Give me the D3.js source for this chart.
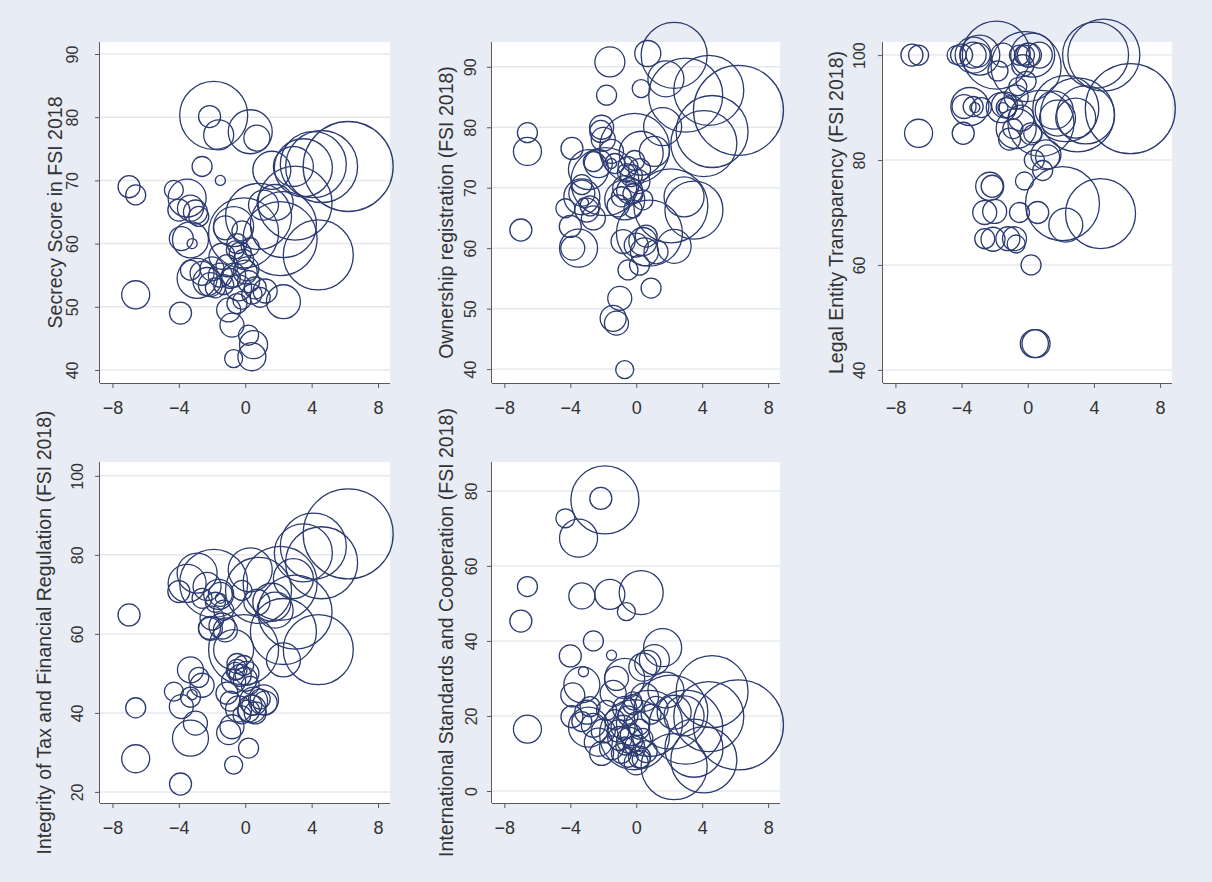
<!DOCTYPE html>
<html><head><meta charset="utf-8">
<script src="https://cdn.jsdelivr.net/npm/d3@7"></script>
<style>
html,body{margin:0;padding:0;background:#e8ecf4;}
svg{display:block;}
</style></head><body>
<svg id="chart" width="1212" height="882"></svg>
<script>
// One entry per jurisdiction, same order in every array.
const xIndex = [6.2,4.6,4.4,4.1,3.5,3.0,2.3,2.1,0.8,-0.1,-1.9,0.3,1.6,2.9,1.8,2.3,-0.7,1.1,0.7,-1.6,-2.15,-2.6,-1.5,-7.0,-6.6,-6.6,
  -4.3,-3.5,-3.3,-3.9,-3.85,-3.3,-3.2,-4.0,-3.0,-3.3,-2.6,-2.8,-2.9,-2.3,-2.0,-2.1,
  -0.5,-0.3,-0.1,0.1,-0.7,-0.9,-1.1,-0.4,0.2,0.4,-1.3,-0.2,0.6,-0.6,0.0,-1.5,-1.8,-0.8,0.5,0.4,-0.7,0.2,-0.5,0.9,-1.0,-1.4,-1.2,1.2,0.3,-0.2];
const scaleWeight = [20.0,12.8,12.1,10.76,8.31,13.52,10.76,13.52,10.76,12.1,11.42,4.78,3.57,3.95,3.2,2.85,3.95,2.22,1.67,2.22,1.2,0.99,0.25,1.2,0.99,1.94,
  0.89,3.57,3.2,1.2,1.42,1.67,0.25,1.2,1.42,0.99,1.42,0.99,3.95,1.94,1.42,1.42,
  0.99,1.2,0.99,1.42,1.42,0.99,1.2,1.67,1.2,0.99,0.99,0.8,1.2,0.8,1.42,1.42,0.99,1.42,1.94,1.94,0.8,0.99,0.99,0.99,1.42,1.67,1.42,1.42,0.8,0.99];
const secrecyScore = [72.2,72.2,58.2,72.5,72.0,66.4,63.0,60.8,64.3,61.7,80.3,77.7,71.6,72.2,66.5,50.8,62.7,66.1,76.7,77.2,80.1,72.2,70.0,69.0,67.7,51.9,
  68.5,67.2,60.6,49.0,60.8,65.6,60.0,65.3,65.0,55.8,55.3,64.3,54.5,54.0,56.0,53.5,
  60.0,58.5,57.5,56.0,55.0,54.5,56.5,53.0,54.0,52.0,53.5,51.0,53.0,59.0,55.5,55.0,53.0,47.1,44.0,42.1,41.8,45.5,50.5,51.5,49.5,58.0,62.5,52.5,59.5,62.0];
const ownershipReg = [82.8,79.3,86.1,77.3,66.3,85.3,91.9,67.0,62.5,76.5,71.0,75.7,80.1,68.5,88.0,60.3,68.0,76.0,92.2,90.8,79.3,74.3,74.0,63.0,79.1,76.0,
  66.6,60.0,68.5,76.5,60.0,69.1,67.5,63.6,66.3,70.5,65.0,67.0,73.0,74.0,78.0,80.0,
  73.5,72.0,74.5,71.0,70.0,68.5,67.0,69.5,73.0,68.0,74.0,66.5,62.0,72.5,60.5,76.0,85.3,61.1,59.4,61.1,39.9,57.2,56.4,53.4,51.7,48.4,47.6,59.4,86.4,69.0];
const legalEntity = [89.8,100,69.8,100,88.6,88.6,89.8,71.7,87.0,97.8,100,100,89.5,88.0,88.0,67.6,86.0,81.0,100,90.0,75.0,65.0,90.0,100,100,85.1,
  100,90.2,100,85.1,90.2,100,90.0,100,100,90.2,70.0,90.0,100,75.0,70.2,64.9,
  100,98.0,95.0,100,92.0,86.0,84.0,88.0,85.0,80.0,90.0,76.0,70.0,94.0,100,100,97.0,65.0,45.0,45.0,64.0,60.0,70.0,78.0,90.0,90.5,65.0,80.6,85.0,100];
const taxIntegrity = [85.3,78.0,56.0,82.2,80.5,65.5,60.6,72.8,71.0,56.0,72.8,76.2,68.0,74.0,66.0,53.4,56.0,43.3,68.0,70.0,61.4,69.0,69.0,64.8,41.3,28.4,
  45.4,72.8,33.6,22.0,41.6,50.9,44.6,70.7,37.4,44.0,47.0,49.0,75.4,72.0,64.0,61.4,
  51.0,49.5,52.0,50.0,48.0,43.0,45.0,41.0,40.5,42.0,66.0,39.5,40.0,50.5,48.5,70.0,68.0,36.5,43.0,41.0,26.8,31.1,52.5,43.5,35.0,62.0,61.0,42.5,47.0,71.0];
const intlStandards = [17.6,26.5,19.8,8.3,11.4,17.0,6.5,21.0,18.0,15.0,77.6,52.9,38.2,20.0,26.9,21.0,30.0,35.0,34.0,52.4,78.0,40.0,36.2,45.3,54.5,16.5,
  72.7,67.4,28.3,19.8,25.6,52.0,31.8,36.0,21.0,18.5,17.5,22.5,17.0,13.0,16.0,10.0,
  20.0,15.0,12.0,18.0,22.0,10.0,16.0,13.5,9.0,14.0,19.0,24.0,10.5,47.8,7.5,11.5,21.5,17.0,25.0,33.0,12.0,16.5,9.0,20.5,14.0,26.0,30.0,22.0,8.5,23.0];

const xTicks = [-8, -4, 0, 4, 8];
const secrecyTicks = [40, 50, 60, 70, 80, 90];
const ownershipTicks = [40, 50, 60, 70, 80, 90];
const legalTicks = [40, 60, 80, 100];
const integrityTicks = [20, 40, 60, 80, 100];
const standardsTicks = [0, 20, 40, 60, 80];

// Layout of the 3x2 grid of plots (last cell empty); lab/tit = distance of tick labels / title from the y axis
const panels = [
  {title: "Secrecy Score in FSI 2018", values: secrecyScore, ticks: secrecyTicks, domain: [37.94, 91.9], box: {x: 100, y: 42, w: 290, h: 341}, lab: 22, tit: 38},
  {title: "Ownership registration (FSI 2018)", values: ownershipReg, ticks: ownershipTicks, domain: [37.7, 94.1], box: {x: 492, y: 42, w: 288, h: 341}, lab: 16, tit: 39},
  {title: "Legal Entity Transparency (FSI 2018)", values: legalEntity, ticks: legalTicks, domain: [37.5, 102.5], box: {x: 883, y: 42, w: 289, h: 341}, lab: 18, tit: 40},
  {title: "Integrity of Tax and Financial Regulation (FSI 2018)", values: taxIntegrity, ticks: integrityTicks, domain: [17.2, 103.5], box: {x: 100, y: 462, w: 290, h: 341}, lab: 17, tit: 49},
  {title: "International Standards and Cooperation (FSI 2018)", values: intlStandards, ticks: standardsTicks, domain: [-3.2, 87.7], box: {x: 492, y: 462, w: 288, h: 341}, lab: 15, tit: 39}
];

const svg = d3.select("#chart");
svg.append("rect").attr("width", 1212).attr("height", 882).attr("fill", "#e8ecf4");

const rScale = d3.scaleSqrt().domain([0, 20]).range([0, 45]);
const FONT = "'Liberation Sans', Arial, sans-serif";
const INK = "#2b3a70";

panels.forEach(p => {
  const b = p.box;
  const g = svg.append("g").attr("transform", `translate(${b.x},${b.y})`);
  const x = d3.scaleLinear().domain([-8.75, 8.72]).range([0, b.w]);
  const y = d3.scaleLinear().domain(p.domain).range([b.h, 0]);

  g.append("rect").attr("width", b.w).attr("height", b.h).attr("fill", "#ffffff");

  // horizontal grid
  g.selectAll("line.grid").data(p.ticks).join("line")
    .attr("class", "grid")
    .attr("x1", 0).attr("x2", b.w)
    .attr("y1", d => y(d)).attr("y2", d => y(d))
    .attr("stroke", "#e6e8ec").attr("stroke-width", 1.5);

  // bubbles
  g.selectAll("circle").data(p.values.map((v, i) => ({x: xIndex[i], y: v, w: scaleWeight[i]})))
    .join("circle")
    .attr("cx", d => x(d.x)).attr("cy", d => y(d.y)).attr("r", d => rScale(d.w))
    .attr("fill", "none").attr("stroke", INK).attr("stroke-width", 1.3);

  // y axis
  const ya = g.append("g").call(d3.axisLeft(y).tickValues(p.ticks).tickSize(5).tickFormat(d3.format("d")));
  ya.select(".domain").attr("d", `M-0.5,0V${b.h}`).attr("stroke", "#5a5a5a");
  ya.selectAll(".tick line").attr("stroke", "#5a5a5a");
  ya.selectAll(".tick text")
    .attr("x", null).attr("dy", null)
    .attr("transform", `translate(${-p.lab},0) rotate(-90)`)
    .attr("text-anchor", "middle")
    .attr("font-family", FONT).attr("font-size", 16).attr("fill", "#333");

  // x axis
  const xa = g.append("g").attr("transform", `translate(0,${b.h})`)
    .call(d3.axisBottom(x).tickValues(xTicks).tickSize(5).tickFormat(d3.format("d")));
  xa.select(".domain").attr("d", `M0,0.5H${b.w}`).attr("stroke", "#5a5a5a");
  xa.selectAll(".tick line").attr("stroke", "#5a5a5a");
  xa.selectAll(".tick text")
    .attr("y", null).attr("dy", null)
    .attr("transform", "translate(0,31)")
    .attr("font-family", FONT).attr("font-size", 18).attr("fill", "#333");

  // y axis title
  g.append("text")
    .attr("transform", `translate(${-p.tit},${b.h / 2}) rotate(-90)`)
    .attr("text-anchor", "middle")
    .attr("font-family", FONT).attr("font-size", 19.5).attr("fill", "#333")
    .text(p.title);
});
</script>
</body></html>
